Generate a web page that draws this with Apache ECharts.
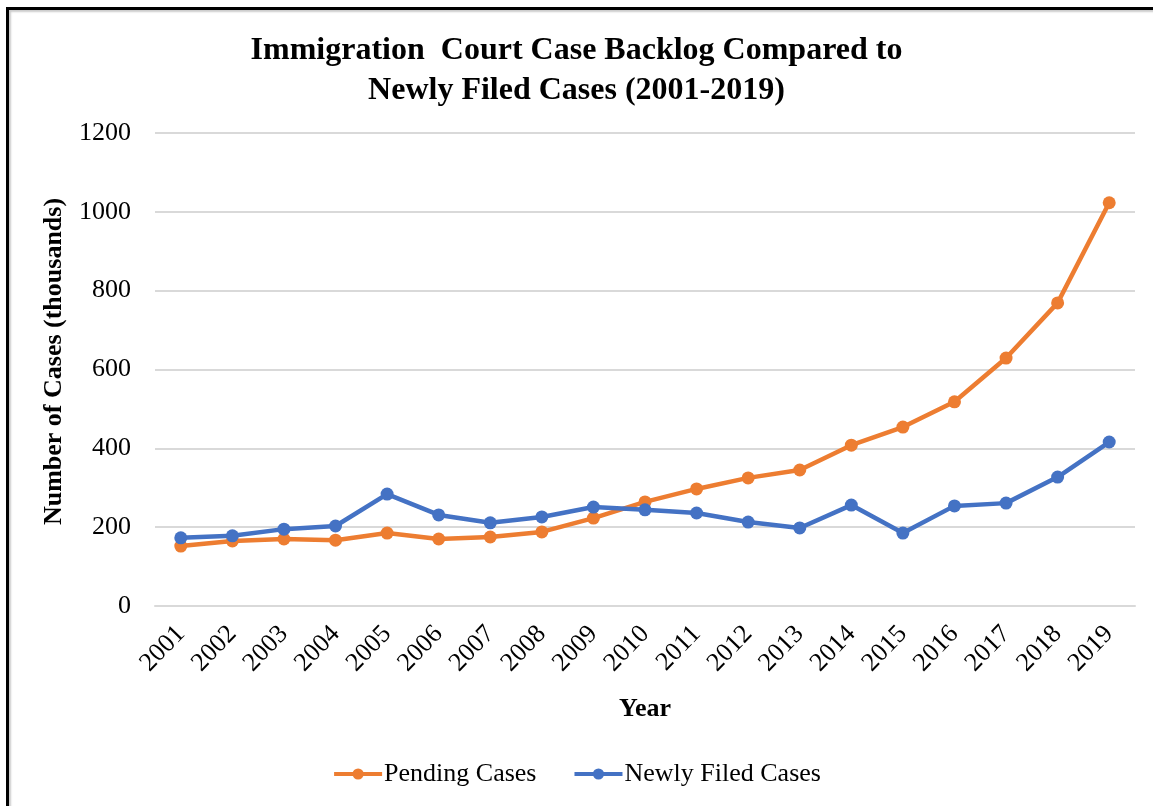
<!DOCTYPE html>
<html>
<head>
<meta charset="utf-8">
<script src="https://cdn.jsdelivr.net/npm/echarts@6/dist/echarts.min.js"></script>
<style>
  html, body { margin: 0; padding: 0; background: #fff; }
  #frame {
    position: absolute; left: 6px; top: 7px; width: 1160px; height: 820px;
    border-top: 3px solid #000; border-left: 3px solid #000;
    box-shadow: inset 2px 2px 2px #ccc;
  }
  #chart { position: absolute; left: 0; top: 0; width: 1153px; height: 806px; }
</style>
</head>
<body>
<div id="frame"></div>
<div id="chart"></div>
<script>
// values in thousands
const years = ['2001', '2002', '2003', '2004', '2005', '2006', '2007', '2008', '2009', '2010',
  '2011', '2012', '2013', '2014', '2015', '2016', '2017', '2018', '2019']
const pendingCases = [152, 165, 170, 167, 185, 170, 175, 188, 223, 264,
  297, 325, 345, 408, 454, 518, 629, 769, 1023]
const newlyFiled = [173, 178, 195, 203, 284, 231, 211, 226, 251, 244,
  236, 213, 198, 256, 185, 254, 261, 327, 416]

const serif = '"Liberation Serif", "Times New Roman", serif'

const chart = echarts.init(document.getElementById('chart'))
chart.setOption({
  animation: false,
  textStyle: { fontFamily: serif, color: '#000' },
  title: {
    text: 'Immigration  Court Case Backlog Compared to\nNewly Filed Cases (2001-2019)',
    left: 'center',
    top: 26,
    textStyle: {
      fontFamily: serif,
      fontSize: 32,
      fontWeight: 'bold',
      lineHeight: 40,
      color: '#000'
    }
  },
  grid: {
    left: 155,
    right: 18,
    top: 133,
    bottom: 200
  },
  legend: {
    bottom: 14,
    left: 'center',
    itemGap: 36,
    itemWidth: 48,
    itemHeight: 14,
    lineStyle: { width: 4 },
    textStyle: { fontFamily: serif, fontSize: 26, color: '#000', padding: [0, 0, 0, -3] },
    data: ['Pending Cases', 'Newly Filed Cases']
  },
  xAxis: {
    type: 'category',
    data: years,
    name: 'Year',
    nameLocation: 'middle',
    nameGap: 90,
    nameTextStyle: { fontFamily: serif, fontSize: 26, fontWeight: 'bold', color: '#000' },
    axisLine: { lineStyle: { color: '#d9d9d9', width: 2 } },
    axisTick: { show: false },
    axisLabel: {
      interval: 0,
      rotate: 46,
      fontFamily: serif,
      fontSize: 26,
      color: '#000',
      margin: 24
    }
  },
  yAxis: {
    type: 'value',
    min: 0,
    max: 1200,
    interval: 200,
    name: 'Number of Cases (thousands)',
    nameLocation: 'middle',
    nameGap: 88,
    nameTextStyle: {
      fontFamily: serif, fontSize: 26, fontWeight: 'bold', color: '#000',
      padding: [0, 0, 0, 16]
    },
    axisLine: { show: false },
    axisTick: { show: false },
    axisLabel: {
      fontFamily: serif,
      fontSize: 26,
      color: '#000',
      margin: 24,
      formatter: function (v) { return String(v) }
    },
    splitLine: { lineStyle: { color: '#d9d9d9', width: 2 } }
  },
  series: [
    {
      name: 'Pending Cases',
      type: 'line',
      data: pendingCases,
      symbol: 'circle',
      symbolSize: 13,
      lineStyle: { width: 4.5, color: '#ED7D31' },
      itemStyle: { color: '#ED7D31' }
    },
    {
      name: 'Newly Filed Cases',
      type: 'line',
      data: newlyFiled,
      symbol: 'circle',
      symbolSize: 13,
      lineStyle: { width: 4.5, color: '#4472C4' },
      itemStyle: { color: '#4472C4' }
    }
  ]
})
</script>
</body>
</html>
